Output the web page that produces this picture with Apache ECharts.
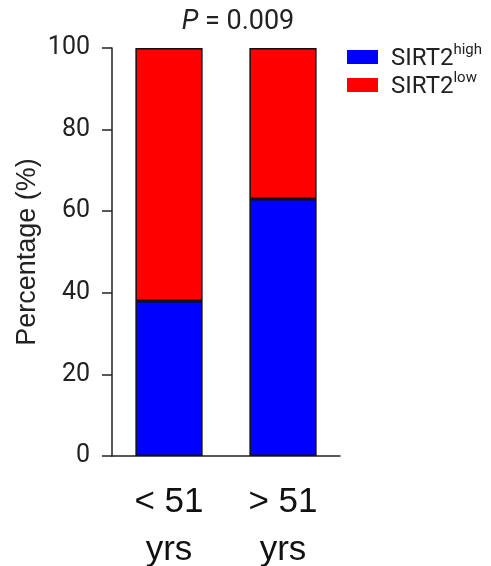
<!DOCTYPE html>
<html><head><meta charset="utf-8">
<script src="https://cdn.jsdelivr.net/npm/echarts@6/dist/echarts.min.js"></script>
<style>html,body{margin:0;padding:0;background:#fff}#c{width:491px;height:566px}</style>
</head><body><div id="c"></div>
<script>
const categories = ['< 51\nyrs', '> 51\nyrs'];
const highValues = [38, 63];
const lowValues = [62, 37];
const yTicks = [0, 20, 40, 60, 80, 100];
const titleText = '{i|P} = 0.009';

const chart = echarts.init(document.getElementById('c'));
const font = 'Roboto, "Liberation Sans", Arial, sans-serif';
const arial = '"Liberation Sans", Arial, sans-serif';
chart.setOption({
  animation: false,
  backgroundColor: '#fff',
  title: {
    text: titleText, left: 233, top: 4, textAlign: 'center',
    textStyle: { fontFamily: font, fontSize: 27, fontWeight: 'normal', color: '#222',
      rich: { i: { fontFamily: font, fontSize: 27, fontStyle: 'italic', color: '#222' } } }
  },
  legend: {
    orient: 'vertical', left: 342, top: 38, itemWidth: 31, itemHeight: 14, itemGap: 0,
    icon: 'rect',
    data: ['high', 'low'],
    itemStyle: { borderWidth: 0 },
    formatter: n => '{a|SIRT2}{b|' + n + '}',
    textStyle: { rich: {
      a: { fontFamily: font, fontSize: 24, color: '#222', lineHeight: 28, verticalAlign: 'bottom', padding: [0,0,0,8] },
      b: { fontFamily: font, fontSize: 15, color: '#222', lineHeight: 28, verticalAlign: 'top', padding: [0,0,10,0] }
    } }
  },
  grid: { left: 112, right: 151, top: 48, bottom: 110, outerBoundsMode: 'none', containLabel: false },
  xAxis: {
    type: 'category', data: categories,
    axisLine: { lineStyle: { color: '#222', width: 1.5 } },
    axisTick: { alignWithLabel: true, length: 10, lineStyle: { color: '#222', width: 1.5 } },
    axisLabel: { fontFamily: arial, fontSize: 35, lineHeight: 48, color: '#111', margin: 22 }
  },
  yAxis: {
    type: 'value', min: 0, max: 100, interval: 20,
    name: 'Percentage (%)', nameLocation: 'middle', nameGap: 71,
    nameTextStyle: { fontFamily: arial, fontSize: 27, color: '#222' },
    axisLine: { show: true, lineStyle: { color: '#222', width: 1.5 } },
    axisTick: { show: true, length: 10, lineStyle: { color: '#222', width: 1.5 } },
    splitLine: { show: false },
    axisLabel: { fontFamily: font, fontSize: 25, color: '#222', margin: 22,
      formatter: v => yTicks.includes(v) ? String(v) : '' }
  },
  series: [
    { name: 'high', type: 'bar', stack: 's', data: highValues, barWidth: '59%',
      itemStyle: { color: '#0000ff', borderColor: '#111', borderWidth: 1.5 } },
    { name: 'low', type: 'bar', stack: 's', data: lowValues, barWidth: '59%',
      itemStyle: { color: '#ff0000', borderColor: '#111', borderWidth: 1.5 } }
  ]
});
</script></body></html>
